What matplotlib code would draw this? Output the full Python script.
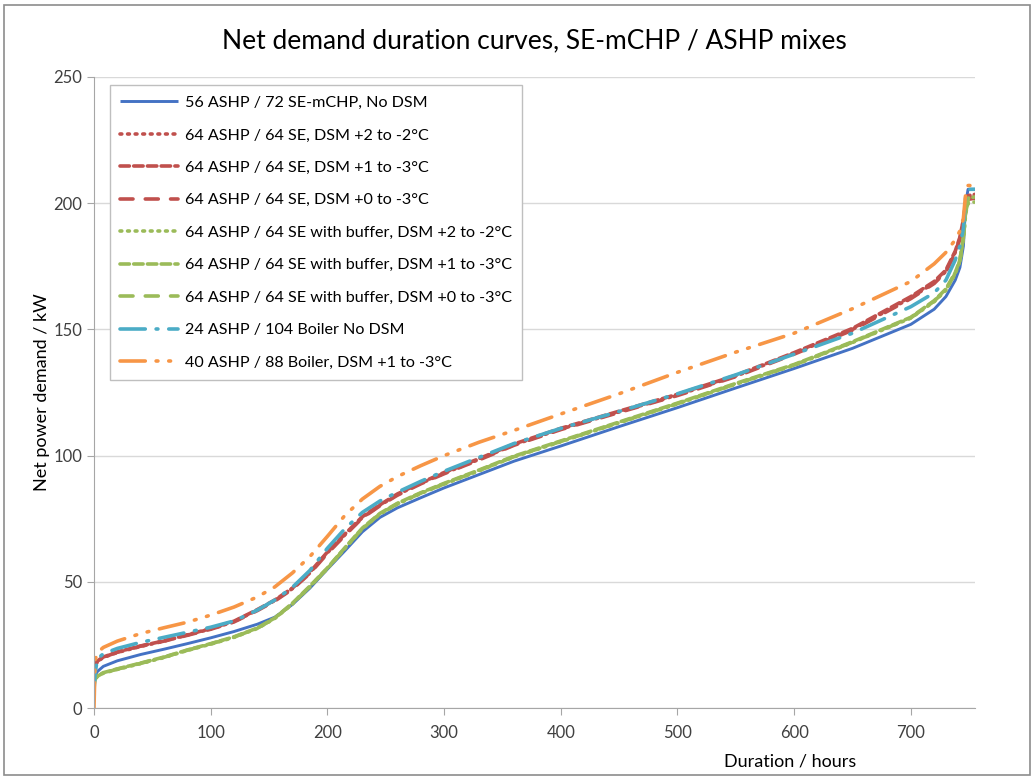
#!/usr/bin/env python3
"""Net demand duration curves for SE-mCHP / ASHP mixes."""
import matplotlib
matplotlib.use('Agg')
import matplotlib.pyplot as plt
from matplotlib.patches import Rectangle

plt.rcParams.update({
    'font.family': ['Lato', 'DejaVu Sans'],
    'font.size': 11,
})

# --- Data ---
hours = [0, 1, 3, 8, 20, 40, 60, 80, 100, 120, 140, 155, 170, 185, 200, 215, 230,
         245, 260, 280, 300, 330, 360, 400, 450, 500, 550, 600, 650, 700, 720, 730,
         738, 742, 745, 747, 749, 755]

ashp56_se72 = [11, 13, 14.5, 16.5, 18.7, 21.2, 23.3, 25.5, 27.8, 30.3, 33.2, 36, 41,
               47.5, 55, 62.3, 69.8, 75.5, 79.3, 83.3, 87.2, 92.5, 97.8, 103.8, 111.5,
               119, 126.8, 134.5, 142.5, 152, 158, 163, 169.5, 174.5, 183, 200, 205.5,
               205.5]

se_dsm_2_2 = [14, 16.5, 18.5, 20, 22, 24.4, 26.5, 28.9, 31.3, 34.2, 38.8, 42.6, 47.3,
              53.5, 61.5, 68.6, 75.5, 80.3, 84.5, 89, 93, 98.5, 104.3, 110.5, 117.3, 124,
              131.5, 140.5, 150, 162.5, 168.5, 173, 180.5, 186, 193, 199, 202, 202.5]
se_dsm_1_3 = [14.5, 16.8, 18.7, 20.2, 22.2, 24.6, 26.6, 29, 31.5, 34.4, 39, 42.8, 47.5,
              53.8, 61.8, 68.9, 75.8, 80.5, 84.8, 89.2, 93.3, 98.8, 104.6, 110.8, 117.6,
              124.3, 131.8, 140.8, 150.4, 163, 169, 173.5, 181, 186.5, 193.5, 200, 203,
              203.5]
se_dsm_0_3 = [14.2, 16.6, 18.6, 20.1, 22.1, 24.5, 26.5, 28.8, 31.2, 34.1, 38.6, 42.4,
              47.1, 53.3, 61.2, 68.4, 75.3, 80.1, 84.3, 88.8, 92.8, 98.3, 104.1, 110.3,
              117.1, 123.8, 131.3, 140.2, 149.7, 162.2, 168.2, 172.8, 180.2, 185.7,
              192.7, 198.5, 201.5, 202]

buf_dsm_2_2 = [9, 11.5, 12.5, 13.8, 15.3, 17.6, 20, 22.8, 25.3, 28, 31.5, 35.5, 41.2,
               48, 55.2, 63.2, 71, 76.8, 80.8, 85, 88.7, 94, 99.5, 105.5, 113, 120.5,
               128.3, 135.8, 144.8, 154.5, 161, 165.5, 172, 177, 186, 196, 200, 200.5]
buf_dsm_1_3 = [9.5, 11.8, 12.8, 14, 15.5, 17.8, 20.2, 23, 25.5, 28.2, 31.7, 35.7, 41.5,
               48.3, 55.5, 63.5, 71.3, 77.1, 81.1, 85.3, 89, 94.3, 99.8, 105.8, 113.3,
               120.8, 128.6, 136.1, 145.1, 154.8, 161.4, 166, 172.5, 177.5, 186.5, 197,
               202, 202.5]
buf_dsm_0_3 = [9.2, 11.6, 12.6, 13.9, 15.4, 17.7, 20.1, 22.9, 25.4, 28.1, 31.6, 35.6,
               41.3, 48.1, 55.3, 63.3, 71.1, 76.9, 80.9, 85.1, 88.8, 94.1, 99.6, 105.6,
               113.1, 120.6, 128.4, 135.9, 144.9, 154.6, 161.2, 165.7, 172.2, 177.2, 186.2,
               196.5, 201, 201.5]

ashp24_boiler = [7, 14, 19.5, 21.5, 23.6, 26, 28, 30, 32, 34.5, 38.8, 42.8, 47.8, 54.5,
                 63.3, 71, 77.5, 82, 85.5, 89.8, 93.8, 99.3, 104.8, 110.8, 117.5, 124.5,
                 132, 140.2, 148.5, 159, 164.5, 169.5, 177.5, 183, 190, 203, 205.5, 205.5]

ashp40_boiler = [0, 19, 22, 24, 26.5, 29.5, 31.8, 34, 36.8, 40, 44, 48, 53.5, 60, 68,
                 76.3, 82.8, 87.8, 91.7, 96, 100, 105.3, 110, 116.5, 124.5, 133, 141,
                 148.5, 158.2, 169, 176, 180.5, 185.5, 189, 194, 204, 207, 207]

labels = [
    '56 ASHP / 72 SE-mCHP, No DSM',
    '64 ASHP / 64 SE, DSM +2 to -2°C',
    '64 ASHP / 64 SE, DSM +1 to -3°C',
    '64 ASHP / 64 SE, DSM +0 to -3°C',
    '64 ASHP / 64 SE with buffer, DSM +2 to -2°C',
    '64 ASHP / 64 SE with buffer, DSM +1 to -3°C',
    '64 ASHP / 64 SE with buffer, DSM +0 to -3°C',
    '24 ASHP / 104 Boiler No DSM',
    '40 ASHP / 88 Boiler, DSM +1 to -3°C',
]
series = [ashp56_se72, se_dsm_2_2, se_dsm_1_3, se_dsm_0_3,
          buf_dsm_2_2, buf_dsm_1_3, buf_dsm_0_3, ashp24_boiler, ashp40_boiler]

BLUE, RED, GREEN, CYAN, ORANGE = '#4472C4', '#C0504D', '#9BBB59', '#4BACC6', '#F79646'
DOT = (0, (0.5, 1.6))
DASH = (0, (2.6, 1.2))
LONGDASH = (0, (3.6, 3.4))
styles = [
    (BLUE, '-', 2.1),
    (RED, DOT, 2.6),
    (RED, DASH, 2.6),
    (RED, LONGDASH, 2.6),
    (GREEN, DOT, 2.6),
    (GREEN, DASH, 2.6),
    (GREEN, LONGDASH, 2.6),
    (CYAN, (0, (7, 3, 0.5, 3)), 2.6),
    (ORANGE, (0, (7, 3, 0.5, 3, 0.5, 3)), 2.6),
]

# --- Plot ---
fig = plt.figure(figsize=(10.34, 7.80), dpi=100)
ax = fig.add_axes([0.0909, 0.0923, 0.8521, 0.8090])

for y, lab, (c, ls, lw) in zip(series, labels, styles):
    ax.plot(hours, y, color=c, linestyle=ls, linewidth=lw, label=lab,
            dash_capstyle='round', solid_capstyle='butt')

ax.set_xlim(0, 755)
ax.set_ylim(0, 250)
ax.set_xticks(range(0, 701, 100))
ax.set_yticks(range(0, 251, 50))
ax.grid(axis='y', color='#D9D9D9', linewidth=1.0)
ax.set_axisbelow(True)
for s in ['top', 'right']:
    ax.spines[s].set_visible(False)
for s in ['left', 'bottom']:
    ax.spines[s].set_color('#A6A6A6')
ax.tick_params(colors='#A6A6A6', labelcolor='#404040', labelsize=12, length=5,
               direction='out')
ax.tick_params(axis='x', pad=7)

ax.set_title('Net demand duration curves, SE-mCHP / ASHP mixes', fontsize=19, pad=21)
ax.set_xlabel('Duration / hours', fontsize=13)
ax.xaxis.set_label_coords(0.79, -0.072)
ax.set_ylabel('Net power demand / kW', fontsize=13)
ax.yaxis.set_label_coords(-0.050, 0.5)

ax.legend(loc='upper left', bbox_to_anchor=(0.018, 0.987), borderaxespad=0,
          fancybox=False, edgecolor='#BFBFBF', framealpha=1, fontsize=11.6,
          handlelength=3.6, handletextpad=0.4, labelspacing=1.13, borderpad=0.65)

# outer chart frame
fig.patches.append(Rectangle((0.004, 0.006), 0.992, 0.988, transform=fig.transFigure,
                             fill=False, edgecolor='#8C8C8C', linewidth=1.2))

fig.savefig('out.png', dpi=100)
plt.close(fig)
